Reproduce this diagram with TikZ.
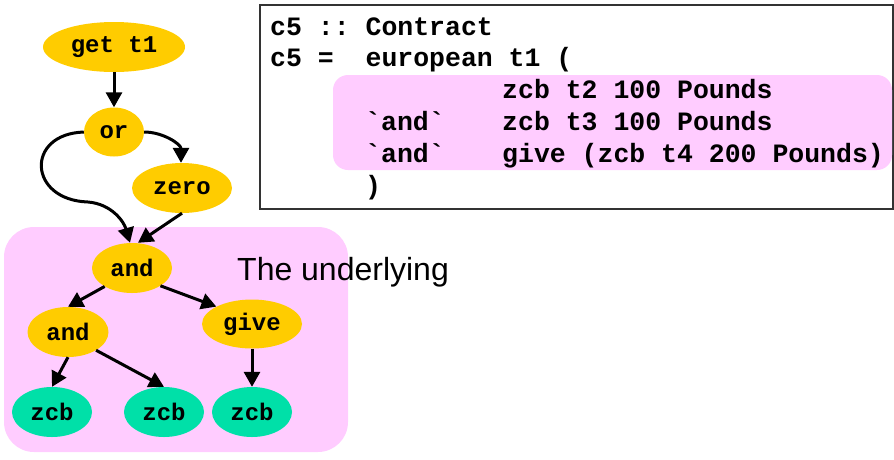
\documentclass[tikz,border=0pt]{standalone}
\usepackage{fontspec}
\setmainfont{Liberation Sans}
\setmonofont{Liberation Mono}
\usetikzlibrary{shapes.geometric,arrows.meta}
\definecolor{opyellow}{HTML}{FFCC00}
\definecolor{opgreen}{HTML}{00E0A8}
\definecolor{hlpink}{HTML}{FFCCFF}
\tikzset{
  opnode/.style={ellipse, fill=opyellow, inner sep=0pt, minimum height=50pt,
    font=\fontsize{24}{24}\selectfont\ttfamily\bfseries},
  leafnode/.style={ellipse, fill=opgreen, inner sep=0pt, minimum width=80pt, minimum height=50pt,
    font=\fontsize{24}{24}\selectfont\ttfamily\bfseries},
  edge/.style={line width=3pt, -{Triangle[length=15pt,width=16pt]}},
  codeline/.style={anchor=base west, inner sep=0pt,
    font=\fontsize{26.5}{26.5}\selectfont\ttfamily\bfseries},
}
\begin{document}
\begin{tikzpicture}[x=1pt,y=-1pt]
\useasboundingbox (0,0) rectangle (894,459);
% background panels
\fill[hlpink, rounded corners=30pt] (4,227) rectangle (348,452);
\draw[black!80, line width=1.3pt, fill=white] (260,5) rectangle (893,209);
\fill[hlpink, rounded corners=15pt] (333,75) rectangle (892,170);
% code text
\node[codeline] (l1) at (270,35) {c5 :: Contract};
\node[codeline] (l2) at (270,66) {c5 =\ \ european t1 (};
\node[codeline] (l3) at (502,98) {zcb t2 100 Pounds};
\node[codeline] (l4a) at (365,130) {`and`};
\node[codeline] (l4) at (502,130) {zcb t3 100 Pounds};
\node[codeline] (l5a) at (365,162) {`and`};
\node[codeline] (l5) at (502,162) {give (zcb t4 200 Pounds)};
\node[codeline] (l6) at (365,194) {)};
% label
\node[anchor=base west, inner sep=0pt, font=\fontsize{32}{32}\selectfont] (lbl) at (237,280) {The underlying};
% tree nodes
\node[opnode, minimum width=142pt] (get) at (114,47) {get t1};
\node[opnode, minimum width=60pt, minimum height=49pt] (or) at (114,132) {or};
\node[opnode, minimum width=100pt] (zero) at (182,188) {zero};
\node[opnode, minimum width=80pt] (and1) at (132,268) {and};
\node[opnode, minimum width=81pt] (and2) at (68,332) {and};
\node[opnode, minimum width=100pt, minimum height=49pt] (give) at (252,324) {give};
\node[leafnode] (z1) at (52,412) {zcb};
\node[leafnode] (z2) at (164,412) {zcb};
\node[leafnode] (z3) at (252,412) {zcb};
% connectors
\draw[edge] (get.south) -- (or.north);
\draw[edge] (or.east) to[out=0, in=90] ([xshift=-1pt]zero.north);
\draw[edge] (or.west) .. controls (25,134) and (28,200) .. (88,202)
  .. controls (112,204) and (124,222) .. ([xshift=-2pt]and1.north);
\draw[edge] (zero.south) -- ([xshift=6pt]and1.north);
\draw[edge] (and1.214) -- (and2.north);
\draw[edge] (and1.-32) -- (give.154);
\draw[edge] (and2.south) -- (z1.north);
\draw[edge] (and2.-33) -- (z2.north);
\draw[edge] (give.south) -- (z3.north);
\end{tikzpicture}
\end{document}
